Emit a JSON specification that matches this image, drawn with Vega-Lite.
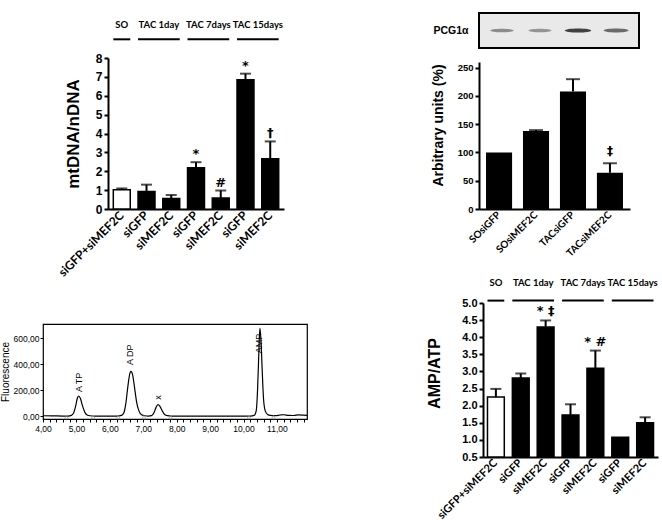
{
  "$schema": "https://vega.github.io/schema/vega-lite/v6.json",
  "autosize": {"type": "none"},
  "padding": {"left": 43, "top": 13, "right": 619, "bottom": 511},
  "bounds": "flush",
  "align": "none",
  "columns": 3,
  "spacing": {"row": 10, "column": 0},
  "resolve": {"scale": {"x": "independent", "y": "independent", "fill": "independent"}},
  "config": {
    "view": {"stroke": null},
    "font": "Liberation Sans",
    "axis": {"grid": false, "labelColor": "black", "titleColor": "black", "domainColor": "black", "tickColor": "black", "labelFont": "Liberation Sans", "titleFont": "Liberation Sans", "labelOverlap": false}
  },
  "concat": [
    {"width": 436, "height": 35, "data": {"values": []}, "mark": "point"},
    {
      "width": 160, "height": 35,
      "view": {"stroke": "black", "strokeWidth": 2, "fill": "#e9e9e9"},
      "data": {"values": [
        {"lane": "SOsiGFP", "intensity": 0.55},
        {"lane": "SOsiMEF2C", "intensity": 0.5},
        {"lane": "TACsiGFP", "intensity": 1.0},
        {"lane": "TACsiMEF2C", "intensity": 0.75}
      ]},
      "mark": {"type": "point", "filled": true, "shape": "M-1,0A1,0.16,0,1,1,1,0A1,0.16,0,1,1,-1,0Z", "color": "#222222"},
      "encoding": {
        "x": {"field": "lane", "type": "nominal", "sort": null, "scale": {"padding": 0.6}, "axis": null},
        "y": {"datum": 0, "type": "quantitative", "scale": {"domain": [-1, 1]},
              "axis": {"title": "PCG1α", "titleAngle": 0, "titleAlign": "right", "titleBaseline": "middle", "titlePadding": 11, "labels": false, "ticks": false, "domain": false, "titleFontSize": 10.5, "titleFontWeight": "bold"}},
        "opacity": {"field": "intensity", "type": "quantitative", "scale": {"domain": [0, 1], "range": [0, 0.85]}, "legend": null},
        "size": {"field": "intensity", "type": "quantitative", "scale": {"domain": [0, 1], "range": [350, 700]}, "legend": null}
      }
    },
    {"width": 1, "height": 1, "data": {"values": []}, "mark": "point"},
    {
      "width": 241, "height": 151,
      "data": {"values": [
        {"cat": "SO|siGFP+siMEF2C", "grp": "SO", "value": 1.02, "hi": 1.09, "note": ""},
        {"cat": "T1|siGFP", "grp": "TAC", "value": 0.93, "hi": 1.29, "note": ""},
        {"cat": "T1|siMEF2C", "grp": "TAC", "value": 0.55, "hi": 0.74, "note": ""},
        {"cat": "T7|siGFP", "grp": "TAC", "value": 2.18, "hi": 2.48, "note": "*"},
        {"cat": "T7|siMEF2C", "grp": "TAC", "value": 0.58, "hi": 0.98, "note": "#"},
        {"cat": "T15|siGFP", "grp": "TAC", "value": 6.85, "hi": 7.17, "note": "*"},
        {"cat": "T15|siMEF2C", "grp": "TAC", "value": 2.66, "hi": 3.58, "note": "†"}
      ]},
      "encoding": {
        "x": {"field": "cat", "type": "nominal", "sort": null, "title": null,
              "scale": {"domain": ["SO|siGFP+siMEF2C", "T1|siGFP", "T1|siMEF2C", "T7|siGFP", "T7|siMEF2C", "T15|siGFP", "T15|siMEF2C"], "range": [65, 241], "paddingInner": 0.315, "paddingOuter": 0.214},
              "axis": {"labelExpr": "split(datum.value, '|')[1]", "labelAngle": -45, "labelAlign": "right", "labelBaseline": "middle", "labelFont": "Lato", "labelFontWeight": "bold", "labelFontSize": 12, "ticks": false, "domainWidth": 2, "labelPadding": 4}}
      },
      "layer": [
        {"mark": {"type": "bar", "stroke": "black", "strokeWidth": 1.5},
         "encoding": {
           "y": {"field": "value", "type": "quantitative", "title": "mtDNA/nDNA", "scale": {"domain": [0, 8]},
                 "axis": {"values": [0, 1, 2, 3, 4, 5, 6, 7, 8], "tickCount": 50, "format": "d", "offset": -65, "labelFontSize": 12, "labelFontWeight": "bold", "tickSize": 4, "tickWidth": 2, "domainWidth": 2, "labelPadding": 2, "titleFontSize": 17, "titleFontWeight": "bold", "titlePadding": 13}},
           "fill": {"field": "grp", "type": "nominal", "scale": {"domain": ["SO", "TAC"], "range": ["white", "black"]}, "legend": null}
         }},
        {"mark": {"type": "rule", "strokeWidth": 2, "color": "black"},
         "encoding": {"y": {"field": "value", "type": "quantitative", "title": "mtDNA/nDNA"}, "y2": {"field": "hi"}}},
        {"mark": {"type": "tick", "thickness": 2, "size": 11, "color": "black"},
         "encoding": {"y": {"field": "hi", "type": "quantitative", "title": "mtDNA/nDNA"}}},
        {"mark": {"type": "text", "baseline": "alphabetic", "dy": -4, "fontSize": 13, "fontWeight": "bold", "font": "DejaVu Sans", "color": "black"},
         "encoding": {"y": {"field": "hi", "type": "quantitative", "title": "mtDNA/nDNA"}, "text": {"field": "note"}}},
        {"data": {"values": [
           {"g": "SO", "s": "SO|siGFP+siMEF2C", "e": "SO|siGFP+siMEF2C", "n": 1},
           {"g": "TAC 1day", "s": "T1|siGFP", "e": "T1|siMEF2C", "n": 2},
           {"g": "TAC 7days", "s": "T7|siGFP", "e": "T7|siMEF2C", "n": 2},
           {"g": "TAC 15days", "s": "T15|siGFP", "e": "T15|siMEF2C", "n": 2}
         ]},
         "layer": [
           {"mark": {"type": "rule", "strokeWidth": 2, "color": "black"},
            "encoding": {"x": {"field": "s", "type": "nominal", "bandPosition": 0, "title": null}, "x2": {"field": "e", "bandPosition": 1}, "y": {"datum": 8.99, "type": "quantitative"}}},
           {"transform": [{"filter": "datum.n == 1"}],
            "mark": {"type": "text", "font": "Lato", "fontWeight": "bold", "fontSize": 9.5, "baseline": "middle"},
            "encoding": {"x": {"field": "s", "type": "nominal", "bandPosition": 0.5, "title": null}, "y": {"datum": 9.75, "type": "quantitative"}, "text": {"field": "g"}}},
           {"transform": [{"filter": "datum.n == 2"}],
            "mark": {"type": "text", "font": "Lato", "fontWeight": "bold", "fontSize": 9.5, "baseline": "middle"},
            "encoding": {"x": {"field": "s", "type": "nominal", "bandPosition": 1.23, "title": null}, "y": {"datum": 9.75, "type": "quantitative"}, "text": {"field": "g"}}}
         ]}
      ]
    },
    {
      "width": 151, "height": 151,
      "data": {"values": [
        {"lane": "SOsiGFP", "value": 100, "hi": null, "note": ""},
        {"lane": "SOsiMEF2C", "value": 137.8, "hi": 139.5, "note": ""},
        {"lane": "TACsiGFP", "value": 208, "hi": 229.6, "note": ""},
        {"lane": "TACsiMEF2C", "value": 64, "hi": 81, "note": "‡"}
      ]},
      "encoding": {
        "x": {"field": "lane", "type": "nominal", "sort": null, "title": null,
              "scale": {"domain": ["SOsiGFP", "SOsiMEF2C", "TACsiGFP", "TACsiMEF2C"], "paddingInner": 0.295, "paddingOuter": 0.19},
              "axis": {"labelAngle": -45, "labelAlign": "right", "labelBaseline": "middle", "labelFont": "Lato", "labelFontWeight": "bold", "labelFontSize": 10, "ticks": false, "domainWidth": 2, "labelPadding": 4}}
      },
      "layer": [
        {"mark": {"type": "bar", "color": "black"},
         "encoding": {"y": {"field": "value", "type": "quantitative", "title": "Arbitrary units (%)", "scale": {"domain": [0, 250], "range": [151, 4]},
           "axis": {"values": [0, 50, 100, 150, 200, 250], "tickCount": 50, "labelFontSize": 9.5, "labelFontWeight": "bold", "tickSize": 4, "tickWidth": 2, "domainWidth": 2, "labelPadding": 2, "titleFontSize": 14, "titleFontWeight": "bold", "titlePadding": 12, "titleY": 67}}}},
        {"transform": [{"filter": "isValid(datum.hi)"}],
         "mark": {"type": "rule", "strokeWidth": 2, "color": "black"},
         "encoding": {"y": {"field": "value", "type": "quantitative", "title": "Arbitrary units (%)"}, "y2": {"field": "hi"}}},
        {"transform": [{"filter": "isValid(datum.hi)"}],
         "mark": {"type": "tick", "thickness": 2, "size": 14, "color": "black"},
         "encoding": {"y": {"field": "hi", "type": "quantitative", "title": "Arbitrary units (%)"}}},
        {"transform": [{"filter": "isValid(datum.hi)"}],
         "mark": {"type": "text", "baseline": "alphabetic", "dy": -8, "fontSize": 12, "fontWeight": "bold", "font": "DejaVu Sans", "color": "black"},
         "encoding": {"y": {"field": "hi", "type": "quantitative", "title": "Arbitrary units (%)"}, "text": {"field": "note"}}}
      ]
    },
    {"width": 1, "height": 256, "data": {"values": []}, "mark": "point"},
    {
      "width": 264, "height": 95,
      "view": {"stroke": "black", "strokeWidth": 1.2},
      "layer": [
        {"data": {"values": [
          {"t": 4.0, "f": 2}, {"t": 4.3, "f": 1}, {"t": 4.6, "f": 0}, {"t": 4.75, "f": 0},
          {"t": 4.85, "f": 5}, {"t": 4.92, "f": 25}, {"t": 4.98, "f": 80}, {"t": 5.03, "f": 140},
          {"t": 5.07, "f": 155}, {"t": 5.12, "f": 135}, {"t": 5.18, "f": 80}, {"t": 5.25, "f": 30},
          {"t": 5.32, "f": 8}, {"t": 5.4, "f": 2}, {"t": 5.55, "f": 0}, {"t": 6.2, "f": 0},
          {"t": 6.35, "f": 5}, {"t": 6.42, "f": 25}, {"t": 6.48, "f": 100}, {"t": 6.54, "f": 230},
          {"t": 6.6, "f": 330}, {"t": 6.63, "f": 345}, {"t": 6.68, "f": 320}, {"t": 6.74, "f": 220},
          {"t": 6.8, "f": 110}, {"t": 6.87, "f": 40}, {"t": 6.95, "f": 10}, {"t": 7.05, "f": 2},
          {"t": 7.15, "f": 0}, {"t": 7.25, "f": 3}, {"t": 7.32, "f": 25}, {"t": 7.38, "f": 65},
          {"t": 7.44, "f": 88}, {"t": 7.5, "f": 75}, {"t": 7.57, "f": 40}, {"t": 7.64, "f": 12},
          {"t": 7.72, "f": 3}, {"t": 7.85, "f": 0}, {"t": 9.0, "f": 0}, {"t": 10.2, "f": 0},
          {"t": 10.32, "f": 5}, {"t": 10.38, "f": 40}, {"t": 10.42, "f": 200}, {"t": 10.46, "f": 500},
          {"t": 10.49, "f": 680}, {"t": 10.52, "f": 600}, {"t": 10.56, "f": 350}, {"t": 10.6, "f": 130},
          {"t": 10.65, "f": 40}, {"t": 10.72, "f": 12}, {"t": 10.8, "f": 5}, {"t": 10.95, "f": 3},
          {"t": 11.1, "f": 8}, {"t": 11.2, "f": 10}, {"t": 11.35, "f": 5}, {"t": 11.5, "f": 4},
          {"t": 11.65, "f": 9}, {"t": 11.8, "f": 7}, {"t": 11.9, "f": 5}
        ]},
         "mark": {"type": "line", "color": "black", "strokeWidth": 1.2, "interpolate": "monotone"},
         "encoding": {
           "x": {"field": "t", "type": "quantitative", "title": null, "scale": {"domain": [4, 11.9], "nice": false, "zero": false},
                 "axis": {"values": [4, 4.2, 4.4, 4.6, 4.8, 5, 5.2, 5.4, 5.6, 5.8, 6, 6.2, 6.4, 6.6, 6.8, 7, 7.2, 7.4, 7.6, 7.8, 8, 8.2, 8.4, 8.6, 8.8, 9, 9.2, 9.4, 9.6, 9.8, 10, 10.2, 10.4, 10.6, 10.8, 11, 11.2, 11.4, 11.6, 11.8],
                          "tickCount": 200,
                          "labelExpr": "abs(datum.value - round(datum.value)) < 0.01 ? replace(format(datum.value, '.2f'), '.', ',') : ''",
                          "labelFlush": false, "domain": false, "tickSize": 3, "labelFontSize": 8.5, "labelPadding": 2}},
           "y": {"field": "f", "type": "quantitative", "title": "Fluorescence", "scale": {"domain": [-23, 712], "nice": false},
                 "axis": {"values": [0, 200, 400, 600], "tickCount": 50, "labelExpr": "replace(format(datum.value, '.2f'), '.', ',')", "domain": false, "tickSize": 3, "labelFontSize": 8.5, "labelPadding": 1, "titleFontSize": 10, "titleFontWeight": "normal", "titlePadding": 3}}
         }},
        {"data": {"values": [{"t": 4.7}, {"t": 5.5}, {"t": 6.25}, {"t": 7.02}, {"t": 7.82}, {"t": 10.16}, {"t": 10.9}]},
         "mark": {"type": "point", "shape": "triangle-up", "size": 16, "color": "#9a9a9a", "strokeWidth": 1},
         "encoding": {"x": {"field": "t", "type": "quantitative", "title": null}, "y": {"datum": -8, "type": "quantitative"}}},
        {"data": {"values": [
          {"lab": "A TP", "t": 5.07, "f": 185},
          {"lab": "A DP", "t": 6.6, "f": 395},
          {"lab": "x", "t": 7.43, "f": 125},
          {"lab": "AMP", "t": 10.47, "f": 485}
        ]},
         "mark": {"type": "text", "angle": 270, "align": "left", "baseline": "middle", "fontSize": 9, "color": "black"},
         "encoding": {"x": {"field": "t", "type": "quantitative", "title": null}, "y": {"field": "f", "type": "quantitative", "title": "Fluorescence"}, "text": {"field": "lab"}}}
      ]
    },
    {
      "width": 179, "height": 133,
      "data": {"values": [
        {"catD": "SO|siGFP+siMEF2C", "grp": "SO", "value": 2.25, "hi": 2.49, "note": ""},
        {"catD": "T1|siGFP", "grp": "TAC", "value": 2.81, "hi": 2.94, "note": ""},
        {"catD": "T1|siMEF2C", "grp": "TAC", "value": 4.3, "hi": 4.49, "note": "* ‡"},
        {"catD": "T7|siGFP", "grp": "TAC", "value": 1.73, "hi": 2.04, "note": ""},
        {"catD": "T7|siMEF2C", "grp": "TAC", "value": 3.09, "hi": 3.61, "note": "* #"},
        {"catD": "T15|siGFP", "grp": "TAC", "value": 1.08, "hi": null, "note": ""},
        {"catD": "T15|siMEF2C", "grp": "TAC", "value": 1.5, "hi": 1.66, "note": ""}
      ]},
      "encoding": {
        "x": {"field": "catD", "type": "nominal", "sort": null, "title": null,
              "scale": {"domain": ["SO|siGFP+siMEF2C", "T1|siGFP", "T1|siMEF2C", "T7|siGFP", "T7|siMEF2C", "T15|siGFP", "T15|siMEF2C"], "range": [4, 179], "paddingInner": 0.324, "paddingOuter": 0.18},
              "axis": {"labelExpr": "split(datum.value, '|')[1]", "labelAngle": -45, "labelAlign": "right", "labelBaseline": "middle", "labelFont": "Lato", "labelFontWeight": "bold", "labelFontSize": 11, "ticks": false, "domainWidth": 2, "labelPadding": 4}}
      },
      "layer": [
        {"mark": {"type": "bar", "stroke": "black", "strokeWidth": 1.5},
         "encoding": {
           "y": {"field": "value", "type": "quantitative", "title": "AMP/ATP", "scale": {"domain": [0.5, 5], "range": [133, -21]},
                 "axis": {"values": [0.5, 1, 1.5, 2, 2.5, 3, 3.5, 4, 4.5, 5], "tickCount": 50, "format": ".1f", "offset": -4, "labelFontSize": 11, "labelFontWeight": "bold", "tickSize": 4, "tickWidth": 2, "domainWidth": 2, "labelPadding": 2, "titleFontSize": 16, "titleFontWeight": "bold", "titlePadding": 19, "titleY": 49}},
           "y2": {"datum": 0.5},
           "fill": {"field": "grp", "type": "nominal", "scale": {"domain": ["SO", "TAC"], "range": ["white", "black"]}, "legend": null}
         }},
        {"transform": [{"filter": "isValid(datum.hi)"}],
         "mark": {"type": "rule", "strokeWidth": 2, "color": "black"},
         "encoding": {"y": {"field": "value", "type": "quantitative", "title": "AMP/ATP"}, "y2": {"field": "hi"}}},
        {"transform": [{"filter": "isValid(datum.hi)"}],
         "mark": {"type": "tick", "thickness": 2, "size": 11, "color": "black"},
         "encoding": {"y": {"field": "hi", "type": "quantitative", "title": "AMP/ATP"}}},
        {"transform": [{"filter": "isValid(datum.hi)"}],
         "mark": {"type": "text", "baseline": "alphabetic", "dy": -5, "fontSize": 13, "fontWeight": "bold", "font": "DejaVu Sans", "color": "black"},
         "encoding": {"y": {"field": "hi", "type": "quantitative", "title": "AMP/ATP"}, "text": {"field": "note"}}},
        {"data": {"values": [
           {"g": "SO", "s": "SO|siGFP+siMEF2C", "e": "SO|siGFP+siMEF2C", "n": 1},
           {"g": "TAC 1day", "s": "T1|siGFP", "e": "T1|siMEF2C", "n": 2},
           {"g": "TAC 7days", "s": "T7|siGFP", "e": "T7|siMEF2C", "n": 2},
           {"g": "TAC 15days", "s": "T15|siGFP", "e": "T15|siMEF2C", "n": 2}
         ]},
         "layer": [
           {"mark": {"type": "rule", "strokeWidth": 2, "color": "black"},
            "encoding": {"x": {"field": "s", "type": "nominal", "bandPosition": 0, "title": null}, "x2": {"field": "e", "bandPosition": 1}, "y": {"datum": 5.07, "type": "quantitative"}}},
           {"transform": [{"filter": "datum.n == 1"}],
            "mark": {"type": "text", "font": "Lato", "fontWeight": "bold", "fontSize": 9.5, "baseline": "middle"},
            "encoding": {"x": {"field": "s", "type": "nominal", "bandPosition": 0.5, "title": null}, "y": {"datum": 5.58, "type": "quantitative"}, "text": {"field": "g"}}},
           {"transform": [{"filter": "datum.n == 2"}],
            "mark": {"type": "text", "font": "Lato", "fontWeight": "bold", "fontSize": 9.5, "baseline": "middle"},
            "encoding": {"x": {"field": "s", "type": "nominal", "bandPosition": 1.24, "title": null}, "y": {"datum": 5.58, "type": "quantitative"}, "text": {"field": "g"}}}
         ]}
      ]
    }
  ]
}
